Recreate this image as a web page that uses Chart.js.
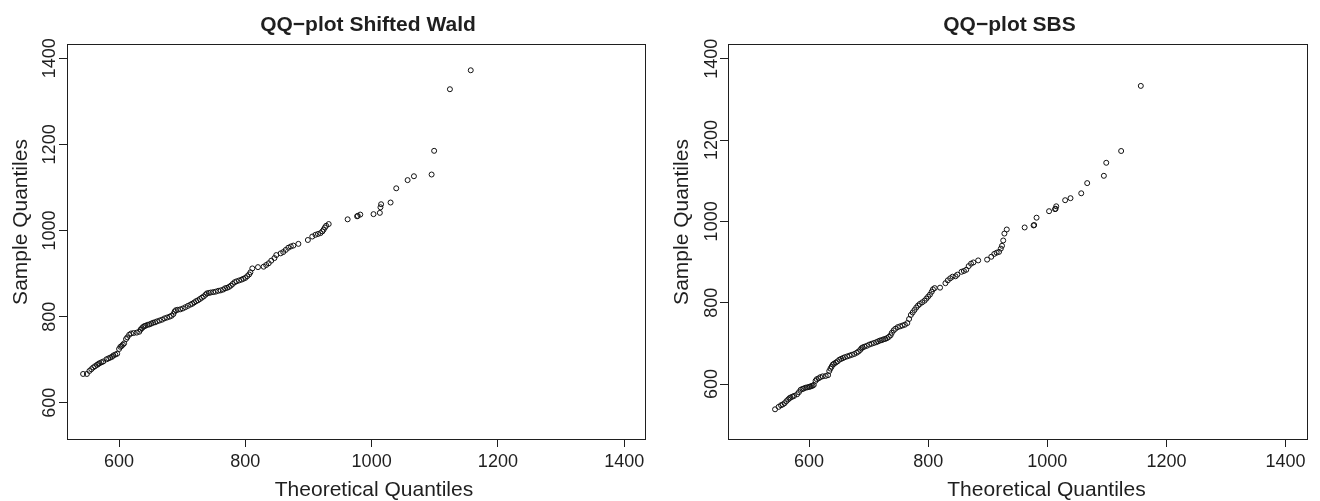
<!DOCTYPE html>
<html>
<head>
<meta charset="utf-8">
<script src="https://cdn.jsdelivr.net/npm/chart.js@4"></script>
<style>
body { margin: 0; background: #fff; }
#wrap { display: flex; width: 1320px; height: 501px; }
canvas { display: block; }
</style>
</head>
<body>
<div id="wrap">
<canvas id="waldChart" width="660" height="501"></canvas>
<canvas id="sbsChart" width="660" height="501"></canvas>
</div>
<script>
// theoretical quantiles (shared by both panels)
const theoretical = [
    543, 549, 553, 556, 559, 562, 565, 567, 569, 572,
    575, 580, 583, 586, 589, 591, 594, 597, 600, 602,
    604, 606, 608, 611, 613, 616, 619, 623, 628, 632,
    634, 636, 638, 640, 642, 645, 648, 651, 654, 657,
    660, 664, 668, 672, 676, 680, 683, 686, 688, 690,
    693, 697, 701, 705, 709, 713, 716, 719, 722, 725,
    728, 731, 734, 737, 739, 742, 745, 749, 753, 757,
    761, 765, 768, 771, 774, 777, 780, 783, 786, 790,
    794, 797, 800, 803, 806, 808, 811, 820, 829, 833,
    837, 841, 846, 849, 856, 860, 864, 868, 872, 876,
    884, 899, 906, 911, 915, 919, 922, 924, 926, 928,
    932, 962, 977, 978, 982, 1003, 1013, 1014, 1015, 1030,
    1039, 1057, 1067, 1095, 1099, 1124, 1157
];
const waldSample = [
    667, 667, 674, 678, 682, 685, 688, 690, 692, 694,
    696, 701, 703, 705, 707, 710, 712, 714, 725, 730,
    732, 735, 738, 748, 752, 758, 761, 762, 763, 765,
    770, 773, 776, 778, 779, 781, 782, 784, 786, 787,
    789, 791, 793, 796, 798, 800, 802, 806, 812, 815,
    816, 817, 819, 822, 825, 828, 830, 833, 836, 838,
    841, 844, 847, 851, 854, 855, 856, 857, 858, 860,
    861, 863, 866, 867, 869, 872, 876, 880, 882, 884,
    886, 888, 890, 894, 898, 903, 912, 915, 916, 920,
    924, 930, 936, 943, 947, 950, 955, 960, 963, 965,
    969, 978, 986, 990, 992, 994, 998, 1002, 1007, 1011,
    1015, 1026, 1033, 1034, 1037, 1038, 1041, 1054, 1061, 1065,
    1098, 1117, 1126, 1130, 1185, 1328, 1372
];
const sbsSample = [
    538, 544, 548, 550, 553, 558, 562, 565, 567, 569,
    571, 575, 580, 586, 588, 589, 591, 592, 593, 594,
    595, 596, 598, 608, 612, 614, 617, 619, 620, 622,
    632, 638, 643, 648, 650, 653, 656, 660, 662, 664,
    666, 668, 670, 672, 674, 677, 680, 684, 688, 690,
    692, 694, 697, 699, 701, 703, 705, 707, 708, 710,
    711, 713, 716, 720, 726, 732, 736, 740, 742, 744,
    746, 750, 760, 770, 776, 782, 788, 793, 797, 801,
    805, 810, 815, 820, 827, 833, 836, 837, 848, 855,
    860, 864, 865, 869, 876, 878, 881, 890, 896, 899,
    904, 906, 913, 920, 923, 925, 933, 940, 953, 970,
    980, 985, 990, 991, 1009, 1025, 1030, 1031, 1037, 1052,
    1057, 1069, 1094, 1112, 1144, 1173, 1333
];
const xTicks = [600, 800, 1000, 1200, 1400];
const yTicks = [600, 800, 1000, 1200, 1400];
const xTitle = "Theoretical Quantiles";
const yTitle = "Sample Quantiles";

const ink = "#1f1f1f";
const fontFam = "'Liberation Sans', Arial, Helvetica, sans-serif";

// R style box, titles and rotated tick labels
const rPlot = {
    id: "rPlot",
    afterDraw(chart, args, o) {
        const ctx = chart.ctx, a = chart.chartArea;
        const xs = chart.scales.x, ys = chart.scales.y;
        ctx.save();
        ctx.strokeStyle = ink;
        ctx.lineWidth = 1;
        ctx.strokeRect(Math.round(a.left) + 0.5, Math.round(a.top) + 0.5,
            Math.round(a.right - a.left), Math.round(a.bottom - a.top));
        ctx.fillStyle = ink;
        ctx.textAlign = "center";
        ctx.textBaseline = "alphabetic";
        ctx.font = "bold 21px " + fontFam;
        ctx.fillText(o.title, o.titleX, 31);
        ctx.font = "21px " + fontFam;
        ctx.fillText(xTitle, o.xTitleX, 496);
        ctx.save();
        ctx.translate(o.yTitleX, 222);
        ctx.rotate(-Math.PI / 2);
        ctx.fillText(yTitle, 0, 0);
        ctx.restore();
        ctx.font = "18px " + fontFam;
        xTicks.forEach(v => ctx.fillText(String(v), xs.getPixelForValue(v), 467));
        yTicks.forEach(v => {
            ctx.save();
            ctx.translate(o.yTickX, ys.getPixelForValue(v));
            ctx.rotate(-Math.PI / 2);
            ctx.fillText(String(v), 0, 0);
            ctx.restore();
        });
        ctx.restore();
    }
};

function qqPlot(id, sample, cfg) {
    const pts = theoretical.map((x, i) => ({x: x, y: sample[i]}));
    new Chart(document.getElementById(id), {
        type: "scatter",
        data: {
            datasets: [{
                data: pts,
                pointRadius: 2.5,
                pointBorderWidth: 1,
                pointBorderColor: "#111",
                pointBackgroundColor: "rgba(0,0,0,0)"
            }]
        },
        options: {
            responsive: false,
            animation: false,
            devicePixelRatio: 1,
            layout: {padding: {top: 44, right: cfg.padRight, left: 0, bottom: 0}},
            plugins: {
                legend: {display: false},
                tooltip: {enabled: false},
                rPlot: cfg
            },
            scales: {
                x: {
                    type: "linear",
                    min: cfg.xMin,
                    max: cfg.xMax,
                    afterBuildTicks: s => { s.ticks = xTicks.map(v => ({value: v})); },
                    afterFit: s => { s.height = 62; },
                    ticks: {display: false},
                    grid: {drawOnChartArea: false, drawTicks: true, tickLength: 8, color: ink},
                    border: {display: true, color: ink}
                },
                y: {
                    type: "linear",
                    min: cfg.yMin,
                    max: cfg.yMax,
                    afterBuildTicks: s => { s.ticks = yTicks.map(v => ({value: v})); },
                    afterFit: s => { s.width = cfg.yWidth; },
                    ticks: {display: false},
                    grid: {drawOnChartArea: false, drawTicks: true, tickLength: 8, color: ink},
                    border: {display: true, color: ink}
                }
            }
        },
        plugins: [rPlot]
    });
}

qqPlot("waldChart", waldSample, {
    title: "QQ\u2212plot Shifted Wald", titleX: 368, xTitleX: 374, yTitleX: 27, yTickX: 55,
    xMin: 517.5, xMax: 1433, yMin: 516, yMax: 1433, padRight: 15, yWidth: 67
});
qqPlot("sbsChart", sbsSample, {
    title: "QQ\u2212plot SBS", titleX: 349.5, xTitleX: 386.5, yTitleX: 28, yTickX: 57,
    xMin: 464, xMax: 1436, yMin: 465, yMax: 1436, padRight: 13, yWidth: 68
});
</script>
</body>
</html>
